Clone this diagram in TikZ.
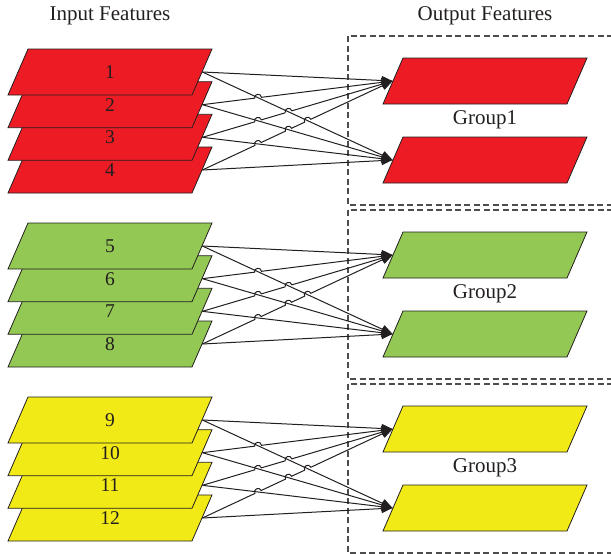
\documentclass[tikz,border=0pt]{standalone}
\usepackage{fontspec}
\setmainfont{Liberation Serif}
\usetikzlibrary{arrows.meta,calc}
\definecolor{redf}{HTML}{ED1C24}
\definecolor{greenf}{HTML}{92C853}
\definecolor{yellowf}{HTML}{F2EA16}
\definecolor{edgec}{HTML}{231F20}
\definecolor{dashc}{HTML}{4D4D4D}
\begin{document}
\begin{tikzpicture}[x=1pt,y=1pt,
  para/.style={rectangle, xslant=0.4348, transform shape,
    minimum width=184pt, minimum height=46pt,
    inner sep=0pt, draw=edgec, line width=0.8pt},
  num/.style={font=\fontsize{19.5}{22}\selectfont, text=edgec, inner sep=0pt},
  title/.style={font=\fontsize{21}{25}\selectfont, text=edgec},
  conn/.style={draw=edgec, line width=1pt},
  arr/.style={conn, -{Triangle[length=11pt,width=9pt]}},
  hop/.style={bend left=90, looseness=1.7},
  dbox/.style={draw=dashc, line width=1.1pt, dash pattern=on 6pt off 3.5pt}]
\useasboundingbox (0,0) rectangle (611,-554);
\clip (0,0) rectangle (611,-554);
\node[title] (tin) at (110,-16) {Input Features};
\node[title] (tout) at (485,-16) {Output Features};
\foreach \g/\col in {0/redf,1/greenf,2/yellowf} {
  \pgfmathsetmacro{\off}{174*\g}
  \pgfmathtruncatemacro{\gn}{\g+1}
  \pgfmathsetmacro{\bt}{-(36+\off)}
  \pgfmathsetmacro{\bb}{-(205+\off)}
  \draw[dbox] (348,\bt) rectangle (625,\bb);
  \foreach \k in {4,3,2,1} {
    \pgfmathtruncatemacro{\lab}{4*\g+\k}
    \pgfmathsetmacro{\yy}{-(72+32.67*(\k-1)+\off)}
    \node[para, fill=\col] (i\g\k) at (110,\yy) {};
    \node[num] (l\g\k) at (i\g\k.center) {\lab};
  }
  \pgfmathsetmacro{\ya}{-(81+\off)}
  \pgfmathsetmacro{\yb}{-(160+\off)}
  \pgfmathsetmacro{\yg}{-(120+\off)}
  \node[para, fill=\col] (oA\g) at (485,\ya) {};
  \node[para, fill=\col] (oB\g) at (485,\yb) {};
  \node[title] (grp\g) at (485,\yg) {Group\gn};
  \foreach \k in {1,2,3,4} {
    \draw[arr] (i\g\k.east) -- (oB\g.west);
  }
  \draw[arr] (i\g1.east) -- (oA\g.west);
  \foreach \k/\j in {2/1,3/1,3/2,4/1,4/2,4/3} {
    \path let \p1=(i\g\k.east), \p2=(oA\g.west), \p3=(i\g\j.east), \p4=(oB\g.west),
      \n1={scalar((\y3-\y1)/((\y2-\y1)-(\y4-\y3)))} in
      ($(\p1)!\n1!(\p2)$) coordinate (x\g\k\j);
  }
  \draw[arr] (i\g2.east) -- ($(x\g21)!3.5pt!(i\g2.east)$) to[hop] ($(x\g21)!3.5pt!(oA\g.west)$) -- (oA\g.west);
  \draw[arr] (i\g3.east) -- ($(x\g32)!3.5pt!(i\g3.east)$) to[hop] ($(x\g32)!3.5pt!(oA\g.west)$)
     -- ($(x\g31)!3.5pt!(i\g3.east)$) to[hop] ($(x\g31)!3.5pt!(oA\g.west)$) -- (oA\g.west);
  \draw[arr] (i\g4.east) -- ($(x\g43)!3.5pt!(i\g4.east)$) to[hop] ($(x\g43)!3.5pt!(oA\g.west)$)
     -- ($(x\g42)!3.5pt!(i\g4.east)$) to[hop] ($(x\g42)!3.5pt!(oA\g.west)$)
     -- ($(x\g41)!3.5pt!(i\g4.east)$) to[hop] ($(x\g41)!3.5pt!(oA\g.west)$) -- (oA\g.west);
}
\end{tikzpicture}
\end{document}
